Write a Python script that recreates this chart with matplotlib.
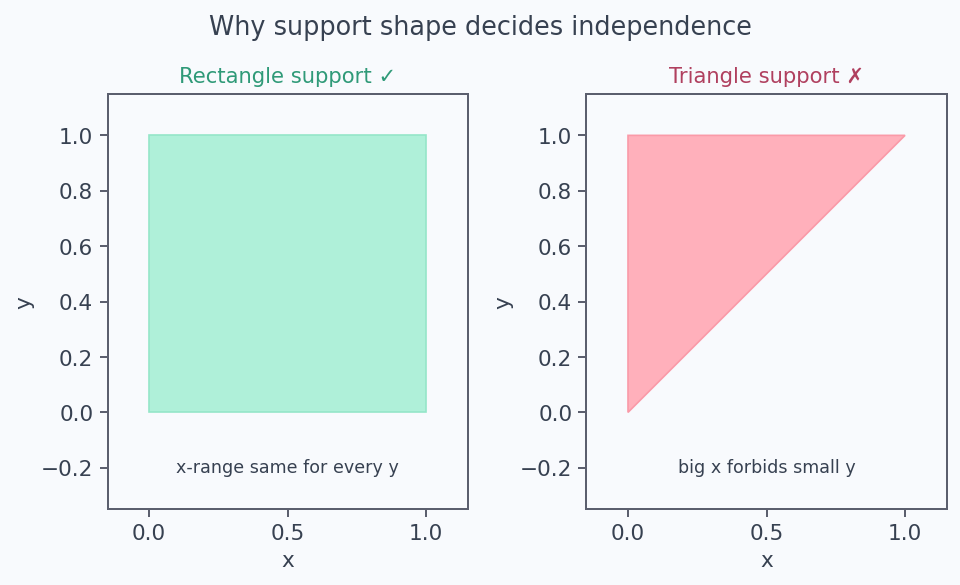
import matplotlib.pyplot as plt

# support shapes (x, y corner points)
rect_x = [0, 1, 1, 0]
rect_y = [0, 0, 1, 1]
tri_x = [0, 1, 0]
tri_y = [0, 1, 1]

titles = ['Rectangle support \u2713', 'Triangle support \u2717']
notes = ['x-range same for every y', 'big x forbids small y']
title_colors = ['#2f9a78', '#b0405f']
fills = ['#aff0d9', '#ffb0bb']
edges = ['#95e6c9', '#fa9aa8']

bg = '#f8fafd'
ink = '#374151'
edge = '#5b5f6e'

plt.rcParams['font.family'] = ['DejaVu Sans']
fig, axes = plt.subplots(1, 2, figsize=(8, 4.88), dpi=120, facecolor=bg)
fig.subplots_adjust(left=0.112, right=0.986, bottom=0.128, top=0.84, wspace=0.33)

shapes = [(rect_x, rect_y), (tri_x, tri_y)]
for ax, (sx, sy), title, tcol, fcol, ecol, note in zip(axes, shapes, titles, title_colors, fills, edges, notes):
    ax.set_facecolor(bg)
    ax.fill(sx, sy, facecolor=fcol, edgecolor=ecol, linewidth=1)
    ax.set_xlim(-0.15, 1.15)
    ax.set_ylim(-0.35, 1.15)
    ax.set_aspect('equal')
    ax.set_xticks([0, 0.5, 1.0])
    ax.set_yticks([-0.2, 0, 0.2, 0.4, 0.6, 0.8, 1.0])
    ax.set_title(title, color=tcol, fontsize=12.7, pad=7)
    ax.set_xlabel('x', color=ink, fontsize=13, labelpad=4)
    ax.set_ylabel('y', color=ink, fontsize=13, labelpad=4)
    ax.text(0.5, -0.2, note, ha='center', va='center', color=ink, fontsize=10.5)
    ax.tick_params(colors=edge, labelcolor=ink, labelsize=13, width=1.2, length=5)
    for s in ax.spines.values():
        s.set_color(edge)
        s.set_linewidth(1.2)

fig.suptitle('Why support shape decides independence', color=ink, fontsize=15.3, y=0.975)
fig.savefig('out.png', dpi=120, facecolor=bg)
